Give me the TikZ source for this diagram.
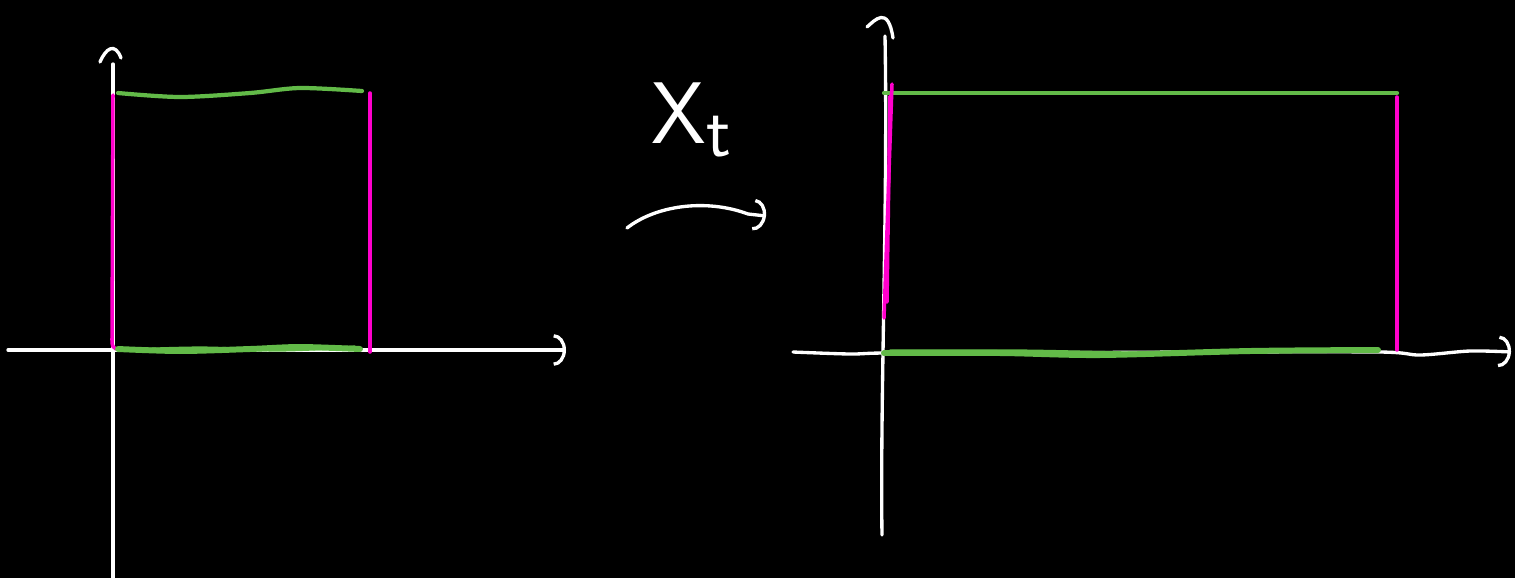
\documentclass[tikz,border=0pt]{standalone}
\usepackage{tikz}
\usetikzlibrary{arrows.meta}
\definecolor{inkpink}{RGB}{255, 0, 204}
\definecolor{inkgreen}{RGB}{98, 186, 72}

\begin{document}
\begin{tikzpicture}[x=0.01cm, y=-0.01cm, line cap=round, line join=round,
    axis/.style={white, line width=0.95pt},
    pinkline/.style={inkpink, line width=1pt},
    greenline/.style={inkgreen, line width=1.2pt},
    greenbase/.style={inkgreen, line width=1.7pt},
    hooktip/.style={-{Arc Barb[length=3.5pt, width=9pt]}}]
  \fill[black] (0,0) rectangle (1515,578);
  \useasboundingbox (0,0) rectangle (1515,578);

  % left sketch
  \draw[axis] (113,578) -- (113,64);
  \draw[axis] (100,62) .. controls (106,48) and (115,42) .. (121,58);
  \draw[axis, hooktip] (8,350) -- (566,350);
  \draw[pinkline] (113,95) -- (112,340) .. controls (112,346) and (113,348) .. (116,349);
  \draw[pinkline] (370,93) -- (370,352);
  \draw[greenline] plot[smooth] coordinates {(118,93) (180,97) (250,93) (300,88) (362,91)};
  \draw[greenbase] plot[smooth] coordinates {(118,349) (180,351) (250,349) (300,347) (360,349)};
  \draw[inkgreen, line width=0.9pt] plot[smooth] coordinates {(125,350) (200,348) (280,350) (355,347)};

  % map label
  \node[white, font=\fontsize{32}{34}\selectfont] (xt) at (692,120) {$\mathsf{X}_{\mathsf{t}}$};
  \coordinate (mapfrom) at (627,228);
  \coordinate (mapto) at (766,216);
  \draw[axis, hooktip] (mapfrom) .. controls (655,206) and (705,198) .. (748,214) -- (mapto);

  % right sketch
  \draw[axis] (882,535) .. controls (880,400) and (888,200) .. (885,36);
  \draw[axis] (867,27) .. controls (875,20) and (888,5) .. (893,38);
  \draw[axis, hooktip] plot[smooth] coordinates {(793,352) (850,354) (884,353) (1000,353) (1200,352) (1380,352) (1420,355) (1470,351) (1511,352)};
  \draw[greenline] (884,93) -- (1397,93);
  \draw[greenbase] plot[smooth] coordinates {(884,353) (1000,353) (1100,355) (1250,351) (1378,350)};
  \draw[inkgreen, line width=0.9pt] plot[smooth] coordinates {(890,351) (1020,351) (1150,353) (1300,350) (1375,351)};
  \draw[pinkline] (884,318) -- (892,84);
  \draw[pinkline] (887,302) -- (890,96);
  \draw[pinkline] (1397,97) -- (1397,350);
\end{tikzpicture}
\end{document}
